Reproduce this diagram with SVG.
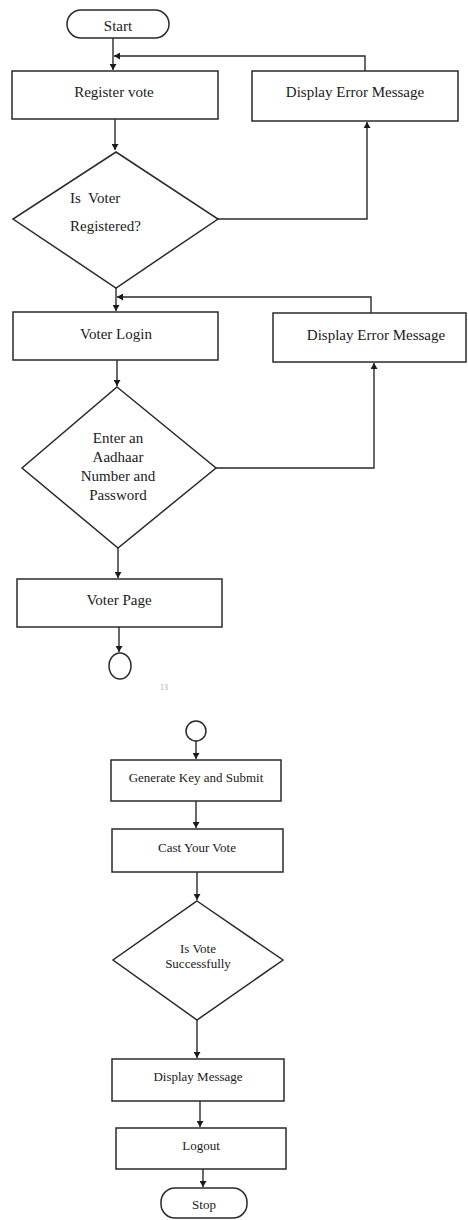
<svg xmlns="http://www.w3.org/2000/svg" width="468" height="1220" viewBox="0 0 468 1220">
<style>
.box{fill:#fff;stroke:#2a2a2a;stroke-width:1.5}
.t{font-family:"Liberation Serif","Times New Roman",serif;font-size:15px;fill:#1a1a1a;text-anchor:middle}
.s{font-size:13px}
.st{text-anchor:start}
.ln{fill:none;stroke:#2a2a2a;stroke-width:1.4}
.pg{font-family:"Liberation Serif",serif;font-size:8px;fill:#aaa}
</style>
<defs>
<marker id="ah" markerUnits="userSpaceOnUse" markerWidth="7" markerHeight="7" refX="6" refY="3.5" orient="auto">
<path d="M0,0 L6,3.5 L0,7 Z" fill="#1a1a1a"/>
</marker>
</defs>
<g id="connectors">
<path class="ln" d="M113,38 V70" marker-end="url(#ah)"/>
<path class="ln" d="M365,71 V56 H114" marker-end="url(#ah)"/>
<path class="ln" d="M115,119 V150" marker-end="url(#ah)"/>
<path class="ln" d="M218,219 H367 V122" marker-end="url(#ah)"/>
<path class="ln" d="M116,288 V311" marker-end="url(#ah)"/>
<path class="ln" d="M371,313 V297 H117" marker-end="url(#ah)"/>
<path class="ln" d="M117,360 V386" marker-end="url(#ah)"/>
<path class="ln" d="M216,468 H374 V363" marker-end="url(#ah)"/>
<path class="ln" d="M118,548 V578" marker-end="url(#ah)"/>
<path class="ln" d="M119,627 V652" marker-end="url(#ah)"/>
<path class="ln" d="M196,741 V759" marker-end="url(#ah)"/>
<path class="ln" d="M196,801 V828" marker-end="url(#ah)"/>
<path class="ln" d="M197,872 V900" marker-end="url(#ah)"/>
<path class="ln" d="M197,1020 V1058" marker-end="url(#ah)"/>
<path class="ln" d="M200,1101 V1127" marker-end="url(#ah)"/>
<path class="ln" d="M203,1169 V1187" marker-end="url(#ah)"/>
</g>
<g id="start"><rect class="box" x="67" y="10" width="102" height="28" rx="14"/><text class="t" x="118" y="31">Start</text></g>
<g id="register"><rect class="box" x="12" y="71" width="206" height="48"/><text class="t" x="114" y="97">Register vote</text></g>
<g id="error1"><rect class="box" x="252" y="71" width="206" height="50"/><text class="t" x="355" y="97">Display Error Message</text></g>
<g id="isRegistered"><polygon class="box" points="116,152 218,219 116,288 13,219"/><text class="t st" x="70" y="203">Is&#160; Voter</text><text class="t st" x="70" y="231">Registered?</text></g>
<g id="login"><rect class="box" x="13" y="312" width="205" height="48"/><text class="t" x="116" y="339">Voter Login</text></g>
<g id="error2"><rect class="box" x="273" y="313" width="193" height="49"/><text class="t" x="376" y="340">Display Error Message</text></g>
<g id="enterAadhaar"><polygon class="box" points="117,387 216,468 118,548 22,468"/><text class="t" x="118" y="443">Enter an</text><text class="t" x="118" y="462">Aadhaar</text><text class="t" x="118" y="481">Number and</text><text class="t" x="118" y="500">Password</text></g>
<g id="voterPage"><rect class="box" x="17" y="579" width="205" height="48"/><text class="t" x="119" y="605">Voter Page</text></g>
<g id="connectorA"><ellipse class="box" cx="120" cy="666" rx="11" ry="13"/></g>
<text class="pg" x="160" y="690">13</text>
<g id="connectorB"><circle class="box" cx="196" cy="731" r="10"/></g>
<g id="generate"><rect class="box" x="111" y="760" width="170" height="41"/><text class="t s" x="196" y="782">Generate Key and Submit</text></g>
<g id="cast"><rect class="box" x="112" y="829" width="171" height="43"/><text class="t s" x="197" y="852">Cast Your Vote</text></g>
<g id="isVote"><polygon class="box" points="197,901 283,960 197,1020 113,960"/><text class="t s" x="198" y="953">Is Vote</text><text class="t s" x="198" y="968">Successfully</text></g>
<g id="displayMsg"><rect class="box" x="112" y="1059" width="172" height="42"/><text class="t s" x="198" y="1081">Display Message</text></g>
<g id="logout"><rect class="box" x="116" y="1128" width="170" height="41"/><text class="t s" x="201" y="1150">Logout</text></g>
<g id="stop"><rect class="box" x="161" y="1188" width="86" height="30" rx="14"/><text class="t s" x="204" y="1209">Stop</text></g>
</svg>
